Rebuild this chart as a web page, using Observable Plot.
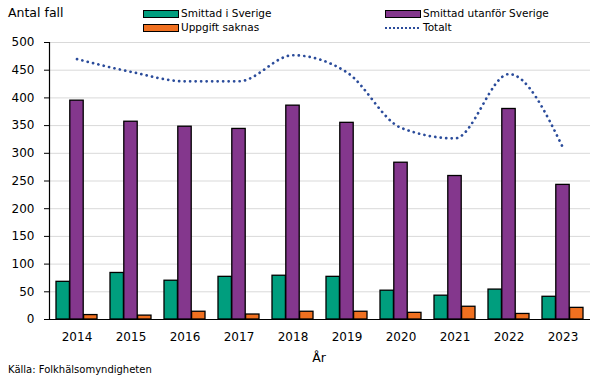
<!DOCTYPE html>
<html><head><meta charset="utf-8">
<script src="https://cdn.jsdelivr.net/npm/d3@7"></script>
<script src="https://cdn.jsdelivr.net/npm/@observablehq/plot@0.6"></script>
<style>
body{margin:0;background:#fff;font-family:"DejaVu Sans",sans-serif;}
#wrap{position:relative;width:605px;height:379px;overflow:hidden;}
.t{position:absolute;white-space:nowrap;color:#000;line-height:1;}
.sw{position:absolute;width:34px;height:6px;border:1px solid #000;box-sizing:content-box;}
.dots{position:absolute;width:34px;height:0;border-top:2.5px dotted #2B4C9B;}
</style></head><body><div id="wrap"></div>
<script>
const years = ["2014","2015","2016","2017","2018","2019","2020","2021","2022","2023"];
const inSweden = [68, 84, 70, 77, 79, 77, 52, 43, 54, 41];
const abroad = [395, 357, 348, 344, 386, 355, 283, 259, 380, 243];
const unknown = [8, 7, 14, 9, 14, 14, 12, 23, 10, 21];
const total = [470, 447, 430, 430, 477, 446, 346, 327, 443, 310];
const seriesNames = ["Smittad i Sverige", "Smittad utanför Sverige", "Uppgift saknas", "Totalt"];
const yTicks = [0, 50, 100, 150, 200, 250, 300, 350, 400, 450, 500];
const colors = ["#009E7E", "#84378D", "#F07020", "#2B4C9B"];

const W = 605, H = 379, mL = 49, mR = 15, mT = 42, mB = 60;
const padIn = 0.235;
const step = (W - mL - mR) / years.length;
const third = step * (1 - padIn) / 3;

const rows = years.map((y, i) => ({year: y, s: inSweden[i], a: abroad[i], u: unknown[i], t: total[i]}));

const chart = Plot.plot({
  width: W, height: H,
  marginLeft: mL, marginRight: mR, marginTop: mT, marginBottom: mB,
  style: {fontFamily: "DejaVu Sans, sans-serif", fontSize: "12px", color: "#000", background: "#fff"},
  x: {type: "band", domain: years, paddingInner: padIn, paddingOuter: padIn / 2, label: null},
  y: {domain: [0, 500], label: null},
  marks: [
    Plot.gridY(yTicks, {stroke: "#d9d9d9", strokeOpacity: 1}),
    Plot.barY(rows, {x: "year", y: "s", fill: colors[0], stroke: "#000", strokeWidth: 1.3, insetRight: 2 * third}),
    Plot.barY(rows, {x: "year", y: "a", fill: colors[1], stroke: "#000", strokeWidth: 1.3, insetLeft: third, insetRight: third}),
    Plot.barY(rows, {x: "year", y: "u", fill: colors[2], stroke: "#000", strokeWidth: 1.3, insetLeft: 2 * third}),
    Plot.line(rows, {x: "year", y: "t", curve: "monotone-x", stroke: colors[3], strokeWidth: 2.7, strokeDasharray: "0.1 5.4", strokeLinecap: "round"}),
    Plot.ruleY([0], {stroke: "#000", strokeWidth: 1.2}),
    Plot.frame({anchor: "left", stroke: "#000", strokeWidth: 1.2}),
    Plot.axisY({ticks: yTicks, tickSize: 5, tickPadding: 10, stroke: "#000", fontSize: 12, label: null}),
    Plot.axisX({tickSize: 0, tickPadding: 13, fontSize: 12, label: null})
  ]
});

const wrap = document.getElementById("wrap");
wrap.appendChild(chart);

function addText(txt, x, y, size, extra) {
  const d = document.createElement("div");
  d.className = "t";
  d.textContent = txt;
  d.style.left = x + "px"; d.style.top = y + "px"; d.style.fontSize = size + "px";
  if (extra) Object.assign(d.style, extra);
  wrap.appendChild(d);
  return d;
}
function addSwatch(cls, x, y, color) {
  const d = document.createElement("div");
  d.className = cls;
  d.style.left = x + "px"; d.style.top = y + "px";
  if (cls === "sw") d.style.background = color;
  wrap.appendChild(d);
}
addText("Antal fall", 8, 7, 12.5);
addSwatch("sw", 143, 10, colors[0]); addText(seriesNames[0], 181, 8, 10.5);
addSwatch("sw", 385, 10, colors[1]); addText(seriesNames[1], 423, 8, 10.5);
addSwatch("sw", 143, 24, colors[2]); addText(seriesNames[2], 181, 22, 10.5);
addSwatch("dots", 385, 27, colors[3]); addText(seriesNames[3], 423, 22, 10.5);
addText("År", 319, 352, 12.5, {transform: "translateX(-50%)"});
addText("Källa:  Folkhälsomyndigheten", 8, 365, 10);
</script></body></html>
